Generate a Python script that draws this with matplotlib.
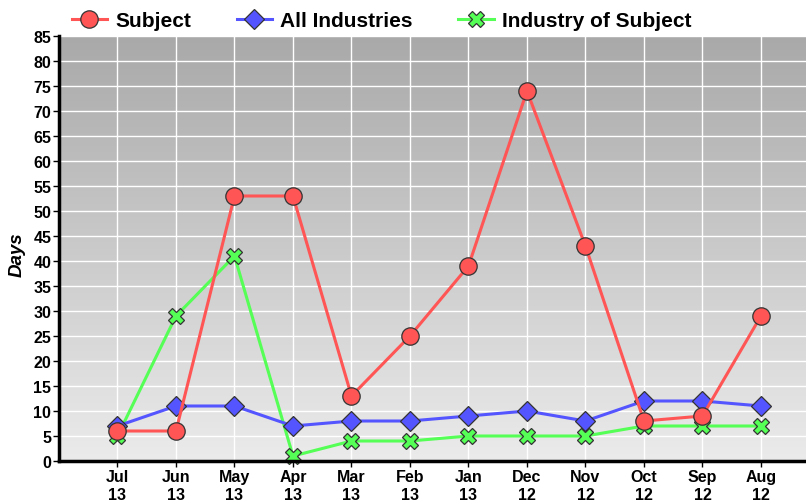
import matplotlib
matplotlib.use("Agg")
import matplotlib.pyplot as plt
import numpy as np
from matplotlib.colors import LinearSegmentedColormap

categories = ["Jul\n13", "Jun\n13", "May\n13", "Apr\n13", "Mar\n13", "Feb\n13",
              "Jan\n13", "Dec\n12", "Nov\n12", "Oct\n12", "Sep\n12", "Aug\n12"]
subject = [6, 6, 53, 53, 13, 25, 39, 74, 43, 8, 9, 29]
all_industries = [7, 11, 11, 7, 8, 8, 9, 10, 8, 12, 12, 11]
industry_of_subject = [5, 29, 41, 1, 4, 4, 5, 5, 5, 7, 7, 7]
y_ticks = list(range(0, 90, 5))

plt.rcParams['font.family'] = ['Liberation Sans', 'DejaVu Sans']

W, H = 806, 502
fig = plt.figure(figsize=(W/100, H/100), dpi=100)
left, right, bottom, top = 59, 806, 462, 37
ax = fig.add_axes([left/W, 1 - bottom/H, (right-left)/W, (bottom-top)/H])

x = np.arange(1, len(categories) + 1)
ax.set_xlim(0, 12.77)
ax.set_ylim(0, 85)

# gradient background
cmap = LinearSegmentedColormap.from_list("g", ["#ebebeb", "#a9a9a9"])
grad = np.linspace(0, 1, 256).reshape(-1, 1)
ax.imshow(grad, extent=[0, 1, 0, 1], transform=ax.transAxes, aspect='auto',
          cmap=cmap, origin='lower', zorder=0)

ax.set_xticks(x)
ax.set_xticklabels(categories, fontsize=11.5, fontweight='bold', linespacing=1.27)
ax.set_yticks(y_ticks)
ax.set_yticklabels([str(v) for v in y_ticks], fontsize=11.5, fontweight='bold')
ax.grid(True, color='white', linewidth=1.0, zorder=1)
ax.set_axisbelow(True)

for s in ['top', 'right']:
    ax.spines[s].set_visible(False)
for s in ['left', 'bottom']:
    ax.spines[s].set_linewidth(2.5)
    ax.spines[s].set_color('black')
    ax.spines[s].set_zorder(6)
ax.tick_params(axis='both', length=4, width=1)
ax.tick_params(axis='y', pad=1.5)
ax.tick_params(axis='x', pad=1.5)

fig.text(17.5/W, 1 - 255/H, "Days", rotation=90, ha='center', va='center',
         fontsize=13.5, fontweight='bold', style='italic')

l3, = ax.plot(x, industry_of_subject, color='#55ff55', linewidth=2.2, marker='X',
              markersize=11.5, markerfacecolor='#55ff55', markeredgecolor='#333333',
              markeredgewidth=0.9, zorder=3, label='Industry of Subject', clip_on=False)
l2, = ax.plot(x, all_industries, color='#5555ff', linewidth=2.2, marker='D',
              markersize=10, markerfacecolor='#5555ff', markeredgecolor='#333333',
              markeredgewidth=0.9, zorder=4, label='All Industries', clip_on=False)
l1, = ax.plot(x, subject, color='#ff5555', linewidth=2.2, marker='o',
              markersize=12.5, markerfacecolor='#ff5555', markeredgecolor='#333333',
              markeredgewidth=0.9, zorder=5, label='Subject', clip_on=False)

leg = fig.legend(handles=[l1, l2, l3], loc='center', bbox_to_anchor=(381.5/W, 1 - 21.5/H),
                 ncol=3, frameon=False, prop={'weight': 'bold', 'size': 15},
                 handlelength=1.7, columnspacing=2.2, handletextpad=0.38)

fig.savefig("out.png", dpi=100)
